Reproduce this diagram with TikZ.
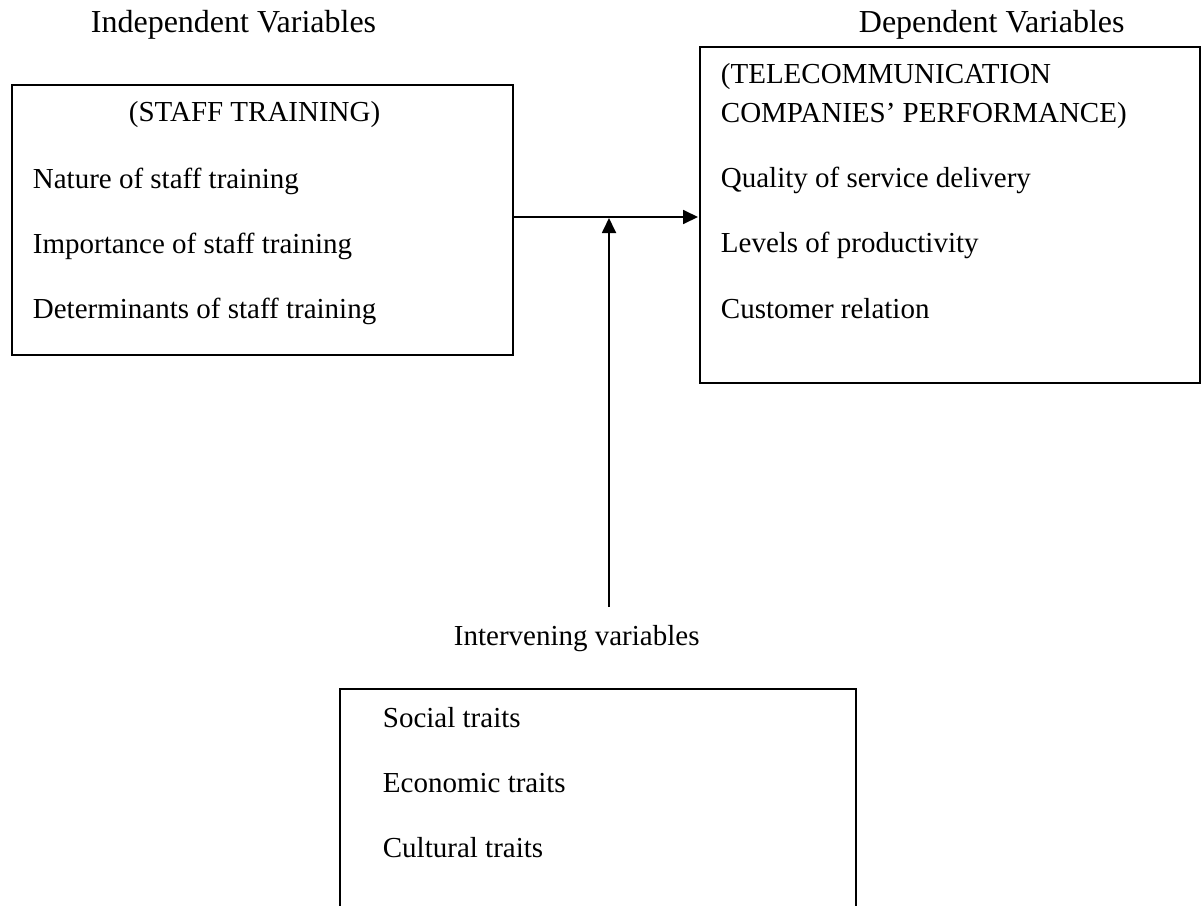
\documentclass[tikz,border=0pt]{standalone}
\usepackage{fontspec}
\setmainfont{Liberation Serif}
\usetikzlibrary{arrows.meta,positioning}

\begin{document}
\begin{tikzpicture}[x=1pt,y=-1pt,>={Triangle[length=15pt,width=14pt]},shorten >=1pt,
	line width=1.8pt,font=\fontsize{29}{35}\selectfont,
	varbox/.style={draw,rectangle,inner sep=0pt,anchor=north west},
	lbl/.style={inner sep=0pt,anchor=base west},
	head/.style={lbl,font=\fontsize{32}{38}\selectfont}]
			\useasboundingbox (0,0) rectangle (1201,905);
			\clip (0,0) rectangle (1201,905);
			% boxes
			\node[varbox,minimum width=501pt,minimum height=270pt] (train) at (11,84) {};
			\node[varbox,minimum width=500pt,minimum height=336pt] (perf) at (699,46) {};
			\node[varbox,minimum width=516pt,minimum height=240pt] (traits) at (339,688) {};
			% headings
			\node[head] (indep) at (90,32) {Independent Variables};
			\node[head] (dep) at (858,32) {Dependent Variables};
			\node[lbl] (interv) at (453,645) {Intervening variables};
			% independent
			\node[lbl] (t_0) at (128,121) {(STAFF TRAINING)};
			\node[lbl] (t_1) at (32,188) {Nature of staff training};
			\node[lbl] (t_2) at (32,253) {Importance of staff training};
			\node[lbl] (t_3) at (32,318) {Determinants of staff training};
			% dependent
			\node[lbl] (p_0) at (720,83) {(TELECOMMUNICATION};
			\node[lbl] (p_0b) at (720,122) {COMPANIES’ PERFORMANCE)};
			\node[lbl] (p_1) at (720,187) {Quality of service delivery};
			\node[lbl] (p_2) at (720,252) {Levels of productivity};
			\node[lbl] (p_3) at (720,318) {Customer relation};
			% intervening
			\node[lbl] (s_1) at (382,727) {Social traits};
			\node[lbl] (s_2) at (382,792) {Economic traits};
			\node[lbl] (s_3) at (382,857) {Cultural traits};
			% arrows
			\coordinate (meet) at (609,217);
			\coordinate (iv) at (609,607);
			\draw[->] (train.east |- meet) -- (perf.west |- meet);
			\draw[->] (iv) -- (meet);
		\end{tikzpicture}
\end{document}
